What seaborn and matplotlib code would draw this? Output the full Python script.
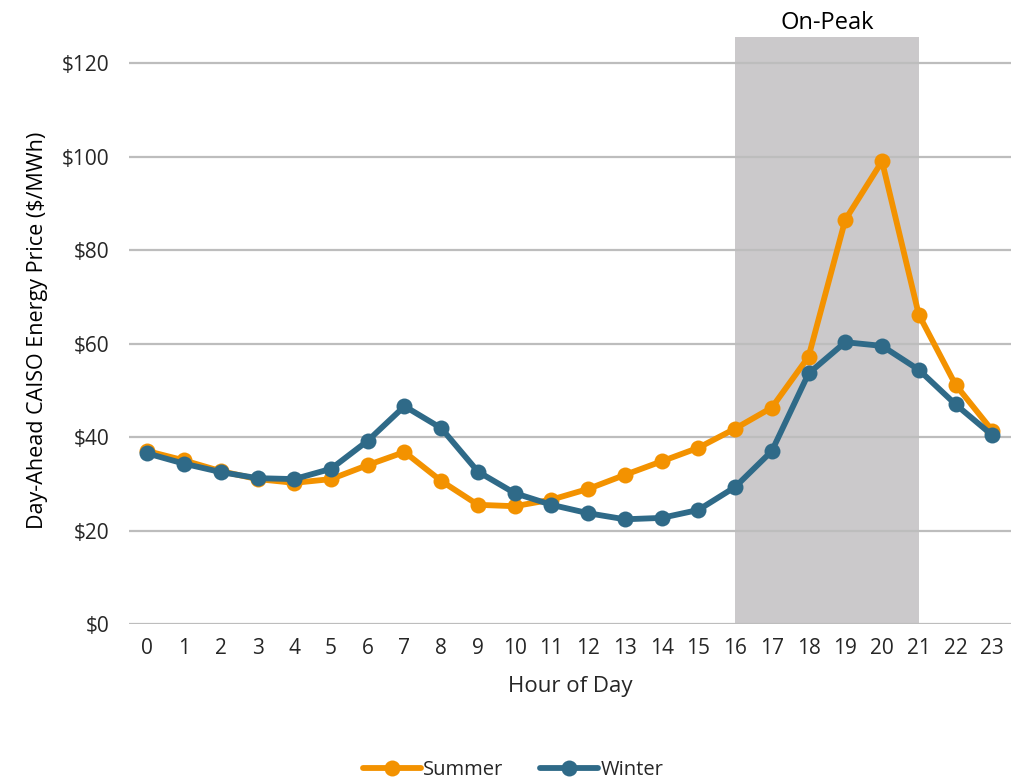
import numpy as np
import pandas as pd
import seaborn as sns
import matplotlib.pyplot as plt

hours = list(range(24))
summer = [37.0, 35.0, 32.7, 31.0, 30.2, 31.0, 34.0, 36.8, 30.6, 25.5, 25.2, 26.6,
          28.9, 31.9, 34.8, 37.7, 41.8, 46.3, 57.2, 86.5, 99.0, 66.2, 51.2, 41.4]
winter = [36.5, 34.3, 32.5, 31.2, 31.0, 33.2, 39.2, 46.6, 41.9, 32.6, 28.0, 25.5,
          23.7, 22.4, 22.7, 24.4, 29.3, 37.0, 53.6, 60.3, 59.5, 54.4, 47.0, 40.4]
peak_start, peak_end = 16, 21

df = pd.DataFrame({
    'Hour': hours * 2,
    'Price': summer + winter,
    'Season': ['Summer'] * 24 + ['Winter'] * 24,
})

sns.set_style('white')
plt.rcParams['font.family'] = ['Open Sans', 'DejaVu Sans']

fig = plt.figure(figsize=(10.26, 7.79), dpi=100)
ax = fig.add_axes([0.1257, 0.199, 0.8593, 0.7535])

ax.axvspan(peak_start, peak_end, color='#CBC9CB', zorder=0, lw=0)
ax.text((peak_start + peak_end) / 2, 1.003, 'On-Peak', transform=ax.get_xaxis_transform(),
        ha='center', va='bottom', fontsize=17, color='#000000')

sns.lineplot(data=df, x='Hour', y='Price', hue='Season', marker='o',
             palette={'Summer': '#F39200', 'Winter': '#2F6A88'},
             linewidth=4.2, markersize=11.5, markeredgewidth=0, ax=ax, zorder=3)

for y in range(0, 121, 20):
    ax.axhline(y, color='#BDBDBD', lw=1.6, zorder=1)

ax.set_xlim(-0.5, 23.5)
ax.set_ylim(0, 125.6)
ax.set_yticks(range(0, 121, 20))
ax.set_yticklabels([f'${v}' for v in range(0, 121, 20)])
ax.set_xticks(hours)
ax.tick_params(axis='both', labelsize=15, length=0, colors='#262626')
ax.tick_params(axis='y', pad=14)
ax.tick_params(axis='x', pad=10)
for s in ax.spines.values():
    s.set_visible(False)

ax.set_xlabel('Hour of Day', fontsize=16, color='#262626', labelpad=12)
ax.set_ylabel('Day-Ahead CAISO Energy Price ($/MWh)', fontsize=15.5, color='#000000', labelpad=10)

handles, labels = ax.get_legend_handles_labels()
ax.legend_.remove()
fig.legend(handles, labels, loc='lower center', bbox_to_anchor=(0.5, -0.025), ncol=2,
           frameon=False, fontsize=14.5, handlelength=2.9, handletextpad=0.1, columnspacing=1.8)

fig.savefig('out.png', dpi=100)
